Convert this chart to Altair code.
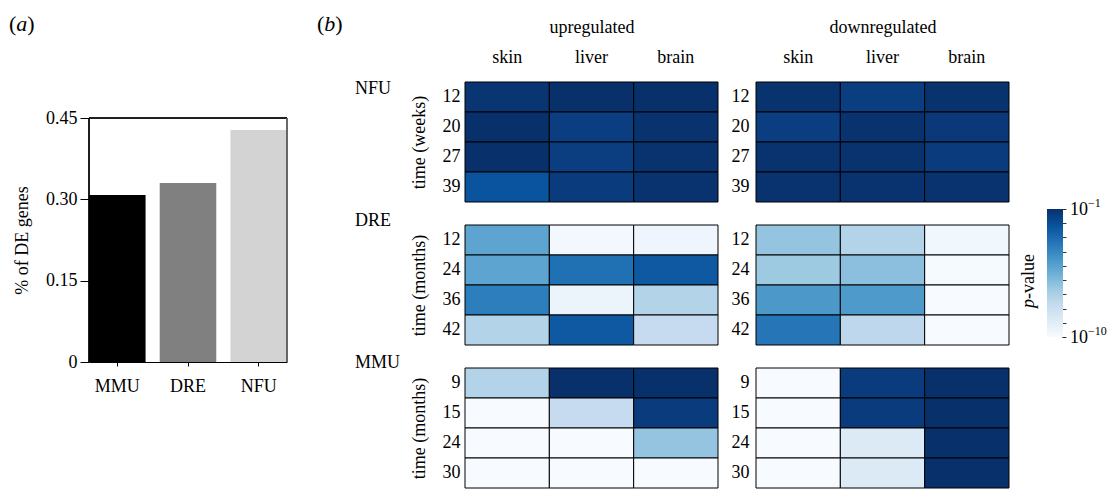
import altair as alt
import pandas as pd

FONT = "Liberation Serif"

# ---------------- panel (a) data ----------------
bar_species = ["MMU", "DRE", "NFU"]
bar_pct = [0.308, 0.330, 0.428]
bar_colors = ["#000000", "#808080", "#d3d3d3"]
bar_ticks = [0, 0.15, 0.30, 0.45]

# ---------------- panel (b) data ----------------
tissues = ["skin", "liver", "brain"]
directions = ["upregulated", "downregulated"]
species_order = ["NFU", "DRE", "MMU"]
nfu_times = ["12", "20", "27", "39"]
dre_times = ["12", "24", "36", "42"]
mmu_times = ["9", "15", "24", "30"]
time_titles = {"NFU": "time (weeks)", "DRE": "time (months)", "MMU": "time (months)"}

# log10(p-value); rows = time points, columns = skin, liver, brain
nfu_up = [[-1.2, -1.0, -1.0], [-1.0, -1.5, -1.1], [-1.0, -1.5, -1.1], [-2.2, -1.4, -1.1]]
nfu_down = [[-1.1, -1.5, -1.1], [-1.5, -1.1, -1.3], [-1.1, -1.1, -1.4], [-1.1, -1.1, -1.1]]
dre_up = [[-5.1, -9.8, -9.6], [-5.1, -3.2, -2.4], [-3.7, -9.5, -7.2], [-7.2, -2.4, -7.75]]
dre_down = [[-6.4, -7.2, -9.7], [-6.6, -6.2, -9.9], [-4.6, -4.7, -10.0], [-3.4, -7.5, -10.0]]
mmu_up = [[-7.2, -1.0, -1.0], [-10.0, -7.75, -1.4], [-10.0, -10.0, -6.4], [-10.0, -10.0, -10.0]]
mmu_down = [[-10.0, -1.4, -1.0], [-10.0, -1.4, -1.0], [-10.0, -8.8, -1.0], [-10.0, -8.8, -1.0]]

# colour bar
cbar_decades = [-10, -9, -8, -7, -6, -5, -4, -3, -2, -1]
cbar_exponents = ["−10", "−1"]

times = {"NFU": nfu_times, "DRE": dre_times, "MMU": mmu_times}
values = {
    ("NFU", "upregulated"): nfu_up, ("NFU", "downregulated"): nfu_down,
    ("DRE", "upregulated"): dre_up, ("DRE", "downregulated"): dre_down,
    ("MMU", "upregulated"): mmu_up, ("MMU", "downregulated"): mmu_down,
}

blues = ["#f7fbff", "#deebf7", "#c6dbef", "#9ecae1", "#6baed6",
         "#4292c6", "#2171b5", "#08519c", "#08306b"]
logp_domain = [-10, -8.875, -7.75, -6.625, -5.5, -4.375, -3.25, -2.125, -1]

W, H = 253, 120
CB_TOP, CB_BOT = -16, 112   # colour bar extent inside the DRE/downregulated panel

color_scale = alt.Scale(domain=logp_domain, range=blues, clamp=True)


def txt(label, x, y, size=18, italic=False, angle=0, align="left", baseline="middle"):
    kw = dict(align=align, baseline=baseline, font=FONT, fontSize=size, color="black")
    if italic:
        kw["fontStyle"] = "italic"
    if angle:
        kw["angle"] = angle
    return alt.Chart(pd.DataFrame({"label": [label]})).mark_text(**kw).encode(
        x=alt.value(x), y=alt.value(y), text="label:N")


def colorbar():
    grad = alt.Gradient(
        gradient="linear", x1=0, x2=0, y1=1, y2=0,
        stops=[alt.GradientStop(color=c, offset=i / (len(blues) - 1))
               for i, c in enumerate(blues)],
    )
    cscale = alt.Scale(domain=[cbar_decades[0], cbar_decades[-1]],
                       range=[CB_BOT, CB_TOP], nice=False)
    bar = alt.Chart(pd.DataFrame({"label": ["p-value"]})).mark_rect(color=grad).encode(
        x=alt.value(W + 38), x2=alt.value(W + 54),
        y=alt.YDatum(cbar_decades[0], type="quantitative", scale=cscale,
                     axis=alt.Axis(orient="right", offset=53, values=cbar_decades,
                                   title=None, grid=False, tickSize=4, labels=False,
                                   domainColor="#333333", tickColor="#333333")),
        y2=alt.Y2Datum(cbar_decades[-1]),
    )
    labels = [
        txt("10", W + 61, CB_TOP + 1),
        txt(cbar_exponents[1], W + 79, CB_TOP - 6, size=12),
        txt("10", W + 61, CB_BOT + 1),
        txt(cbar_exponents[0], W + 79, CB_BOT - 6, size=12),
    ]
    return [bar] + labels


def make_panel(sp, d):
    vals = values[(sp, d)]
    tl = times[sp]
    recs = [{"tissue": tissues[j], "time": tl[i], "logp": vals[i][j]}
            for i in range(len(tl)) for j in range(len(tissues))]
    df = pd.DataFrame(recs)
    is_top = sp == "NFU"
    is_left = d == "upregulated"
    if is_top:
        xaxis = alt.Axis(orient="top", title=d, labelAngle=0, ticks=False, domain=False,
                         labelPadding=16, titlePadding=12)
    else:
        xaxis = None
    yaxis = alt.Axis(title=time_titles[sp] if is_left else None, ticks=False, domain=False,
                     labelPadding=5 if is_left else 7, titlePadding=14)
    rect = alt.Chart(df).mark_rect(stroke="black", strokeWidth=1).encode(
        x=alt.X("tissue:N", sort=tissues, axis=xaxis,
                scale=alt.Scale(paddingInner=0, paddingOuter=0)),
        y=alt.Y("time:N", sort=tl, axis=yaxis,
                scale=alt.Scale(paddingInner=0, paddingOuter=0)),
        color=alt.Color("logp:Q", scale=color_scale, legend=None),
    )
    layers = [rect]
    if is_left:
        offs = {"NFU": 7, "DRE": -4, "MMU": -5}
        layers.append(txt(sp, -110, offs[sp]))
    if is_top and is_left:
        layers += [txt("(", -148, -51, size=22, baseline="alphabetic"),
                   txt("b", -140.7, -51, size=22, italic=True, baseline="alphabetic"),
                   txt(")", -129.7, -51, size=22, baseline="alphabetic")]
    if sp == "DRE" and not is_left:
        layers += [txt("p", W + 20, 83, italic=True, angle=270),
                   txt("-value", W + 20, 74, angle=270)]
        layers += colorbar()
        return alt.layer(*layers).resolve_scale(y="independent").properties(width=W, height=H)
    return alt.layer(*layers).properties(width=W, height=H)


panels = [make_panel(sp, d) for sp in species_order for d in directions]
grid = alt.concat(*panels, columns=2, bounds="flush", spacing={"row": 23, "column": 38})

# ---------------- panel (a) chart ----------------
BAR_H = 280          # plot area starts level with the heat maps
Y_TOP = 0.45 * BAR_H / 244
bar_df = pd.DataFrame({"species": bar_species, "pct": bar_pct, "color": bar_colors})
yscale = alt.Scale(domain=[0, Y_TOP], nice=False)
bars = alt.Chart(bar_df).mark_bar().encode(
    x=alt.X("species:N", sort=bar_species,
            scale=alt.Scale(paddingInner=0.2, paddingOuter=0),
            axis=alt.Axis(title=None, labelAngle=0, tickSize=4, labelPadding=11,
                          domain=True)),
    y=alt.Y("pct:Q", scale=yscale,
            axis=alt.Axis(title="% of DE genes", values=bar_ticks, grid=False, tickSize=9,
                          labelPadding=3, titlePadding=14, domain=False,
                          titleY=(BAR_H - 244) + 122,
                          labelExpr="datum.value == 0 ? '0' : format(datum.value, '.2f')")),
    color=alt.Color("color:N", scale=None),
)
spine_top = alt.Chart(bar_df).mark_rule(color="black", strokeWidth=1).encode(
    y=alt.datum(bar_ticks[-1]))
spine_left = alt.Chart(bar_df).mark_rule(color="black", strokeWidth=1).encode(
    x=alt.value(0), y=alt.datum(0), y2=alt.datum(bar_ticks[-1]))
spine_right = alt.Chart(bar_df).mark_rule(color="#555555", strokeWidth=1).encode(
    x=alt.value(198), y=alt.datum(0), y2=alt.datum(bar_ticks[-1]))
bar_chart = alt.layer(
    bars, spine_top, spine_left, spine_right,
    txt("(", -80, -51, size=22, baseline="alphabetic"),
    txt("a", -72.7, -51, size=22, italic=True, baseline="alphabetic"),
    txt(")", -61.7, -51, size=22, baseline="alphabetic"),
).properties(width=198, height=BAR_H)

chart = alt.hconcat(bar_chart, grid, spacing=178, bounds="flush").properties(
    padding={"left": 9, "top": 13, "right": 0, "bottom": 0}
).configure_axis(
    labelFont=FONT, titleFont=FONT, labelFontSize=18, titleFontSize=18,
    labelColor="black", titleColor="black", titleFontWeight="normal",
    tickColor="black", domainColor="black",
).configure_view(stroke=None)

chart.save("out.html", embed_options={"renderer": "svg", "actions": False})
